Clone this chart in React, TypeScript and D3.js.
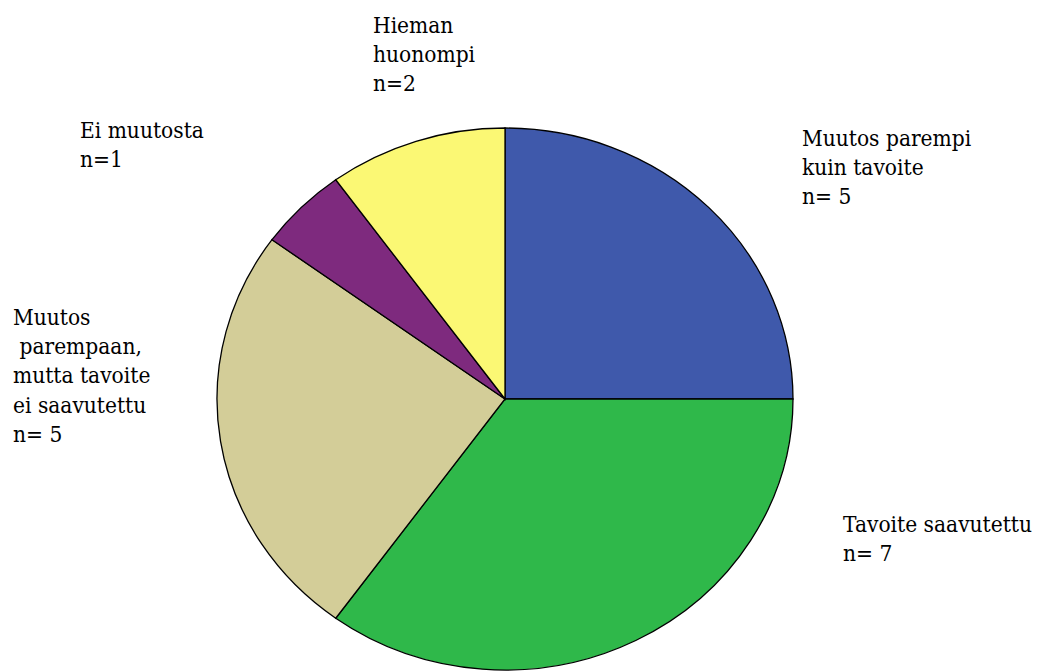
import React from "react";
import * as d3 from "d3";

const categories = [
  "Muutos parempi kuin tavoite",
  "Tavoite saavutettu",
  "Muutos parempaan, mutta tavoite ei saavutettu",
  "Ei muutosta",
  "Hieman huonompi",
];
const values = [5, 7, 5, 1, 2];
const colors = ["#3f59ab", "#2fb84a", "#d3cd98", "#7e2a7e", "#fbf874"];
const labelLines = [
  ["Muutos parempi", "kuin tavoite", "n= 5"],
  ["Tavoite saavutettu", "n= 7"],
  ["Muutos", " parempaan,", "mutta tavoite", "ei saavutettu", "n= 5"],
  ["Ei muutosta", "n=1"],
  ["Hieman", "huonompi", "n=2"],
];
const labelPos: [number, number][] = [
  [802, 146],
  [843, 532],
  [13, 325],
  [80, 138],
  [373, 33],
];

export default function App() {
  const W = 1041, H = 671;
  const cx = 505, cy = 399, rx = 288, ry = 271;
  const pie = d3.pie<number>().sort(null).value((d) => d);
  const arcs = pie(values);
  const arc = d3.arc<d3.PieArcDatum<number>>().innerRadius(0).outerRadius(rx);
  return (
    <svg width={W} height={H} style={{ position: "absolute", left: 0, top: 0 }}>
      <rect width={W} height={H} fill="#fff" />
      <g transform={`translate(${cx},${cy}) scale(1,${ry / rx})`}>
        {arcs.map((a, i) => (
          <path
            key={i}
            d={arc(a) || ""}
            fill={colors[i]}
            stroke="#000"
            strokeWidth={1.3}
            vectorEffect="non-scaling-stroke"
          />
        ))}
      </g>
      {labelLines.map((lines, i) => (
        <text
          key={i}
          transform={`translate(${labelPos[i][0]},${labelPos[i][1]}) scale(0.9,1)`}
          fontSize={22.5}
          fill="#000"
          fontFamily="DejaVu Serif, serif"
          xmlSpace="preserve"
        >
          {lines.map((l, j) => (
            <tspan key={j} x={0} y={j * 29.2}>
              {l}
            </tspan>
          ))}
        </text>
      ))}
    </svg>
  );
}
